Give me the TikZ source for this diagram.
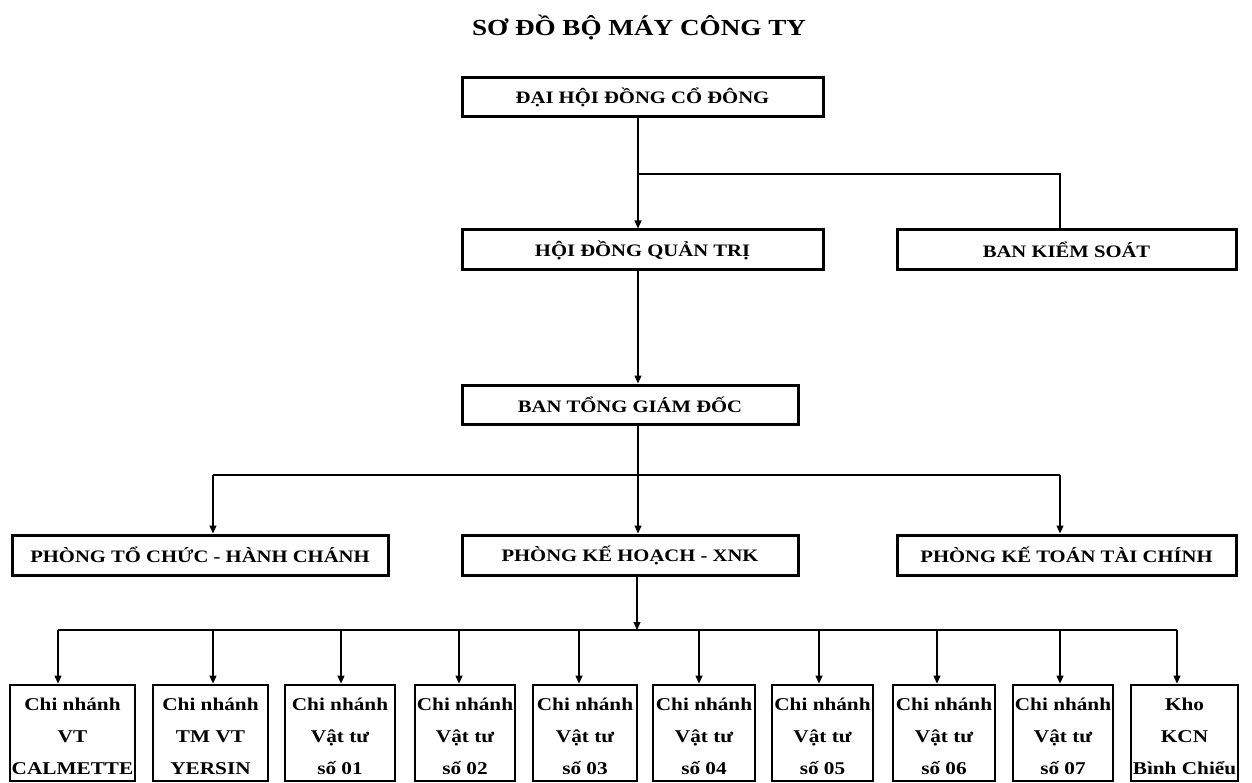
\documentclass[tikz,border=0pt]{standalone}
\usepackage{fontspec}
\setmainfont[FakeStretch=1.18]{Liberation Serif}
\usetikzlibrary{arrows.meta}
\begin{document}
\begin{tikzpicture}[x=1pt,y=-1pt,
  box/.style={draw, line width=3pt, inner sep=0pt, font=\fontsize{17.5}{20}\selectfont\bfseries},
  leaf/.style={draw, line width=2.8pt, inner sep=0pt, align=center, font=\fontsize{18}{32}\selectfont\bfseries},
  conn/.style={line width=1.1pt},
  arr/.style={conn, -{Triangle[length=8pt,width=7pt]}}]
\useasboundingbox[fill=white] (0,0) rectangle (1252,783);

\node[font=\fontsize{23}{26}\selectfont\bfseries] (title) at (639,28) {SƠ ĐỒ BỘ MÁY CÔNG TY};

\node[box, minimum width=361, minimum height=39] (dh) at (642.5,97.5) {ĐẠI HỘI ĐỒNG CỔ ĐÔNG};
\node[box, minimum width=361, minimum height=40] (hdqt) at (642.5,250) {HỘI ĐỒNG QUẢN TRỊ};
\node[box, minimum width=339, minimum height=40] (bks) at (1066.5,250) {BAN KIỂM SOÁT};
\node[box, minimum width=336, minimum height=39] (btgd) at (630,404.5) {BAN TỔNG GIÁM ĐỐC};
\node[box, minimum width=376, minimum height=40] (ptc) at (200,555) {PHÒNG TỔ CHỨC - HÀNH CHÁNH};
\node[box, minimum width=336, minimum height=40] (pkh) at (630,555) {PHÒNG KẾ HOẠCH - XNK};
\node[box, minimum width=339, minimum height=40] (pkt) at (1066.5,555) {PHÒNG KẾ TOÁN TÀI CHÍNH};

% level 1 connectors
\coordinate (j1) at (638,174);
\coordinate (j1r) at (1060,174);
\draw[arr] (dh.south -| j1) -- (hdqt.north -| j1);
\draw[conn] (j1) -- (j1r) -- (j1r |- bks.north);
\draw[arr] (hdqt.south -| j1) -- (btgd.north -| j1);

% level 2 connectors
\coordinate (j2) at (638,475);
\coordinate (j2l) at (213,475);
\coordinate (j2r) at (1060,475);
\draw[arr] (btgd.south -| j2) -- (pkh.north -| j2);
\draw[conn] (j2l) -- (j2r);
\draw[arr] (j2l) -- (j2l |- ptc.north);
\draw[arr] (j2r) -- (j2r |- pkt.north);

% level 3
\coordinate (j3) at (637,630);
\coordinate (j3l) at (58,630);
\coordinate (j3r) at (1177,630);
\draw[arr] (pkh.south -| j3) -- (j3);
\draw[conn] (j3l) -- (j3r);

\foreach \l/\r/\a/\n/\t in {
  10/135/58/b1/{Chi nhánh\\VT\\CALMETTE},
  153/268/213/b2/{Chi nhánh\\TM VT\\YERSIN},
  285/395/341/b3/{Chi nhánh\\Vật tư\\số 01},
  415/515/459/b4/{Chi nhánh\\Vật tư\\số 02},
  533/637/579/b5/{Chi nhánh\\Vật tư\\số 03},
  653/755/699/b6/{Chi nhánh\\Vật tư\\số 04},
  772/873/819/b7/{Chi nhánh\\Vật tư\\số 05},
  893/995/937/b8/{Chi nhánh\\Vật tư\\số 06},
  1013/1113/1060/b9/{Chi nhánh\\Vật tư\\số 07},
  1131/1238/1177/b10/{Kho\\KCN\\Bình Chiểu}}{
  \node[leaf, minimum width=\r-\l, minimum height=96] (\n) at ({(\l+\r)/2},733) {\rule{0pt}{19pt}\t};
  \coordinate (a\n) at (\a,630);
  \draw[arr] (a\n) -- (a\n |- \n.north);
}
\end{tikzpicture}
\end{document}
